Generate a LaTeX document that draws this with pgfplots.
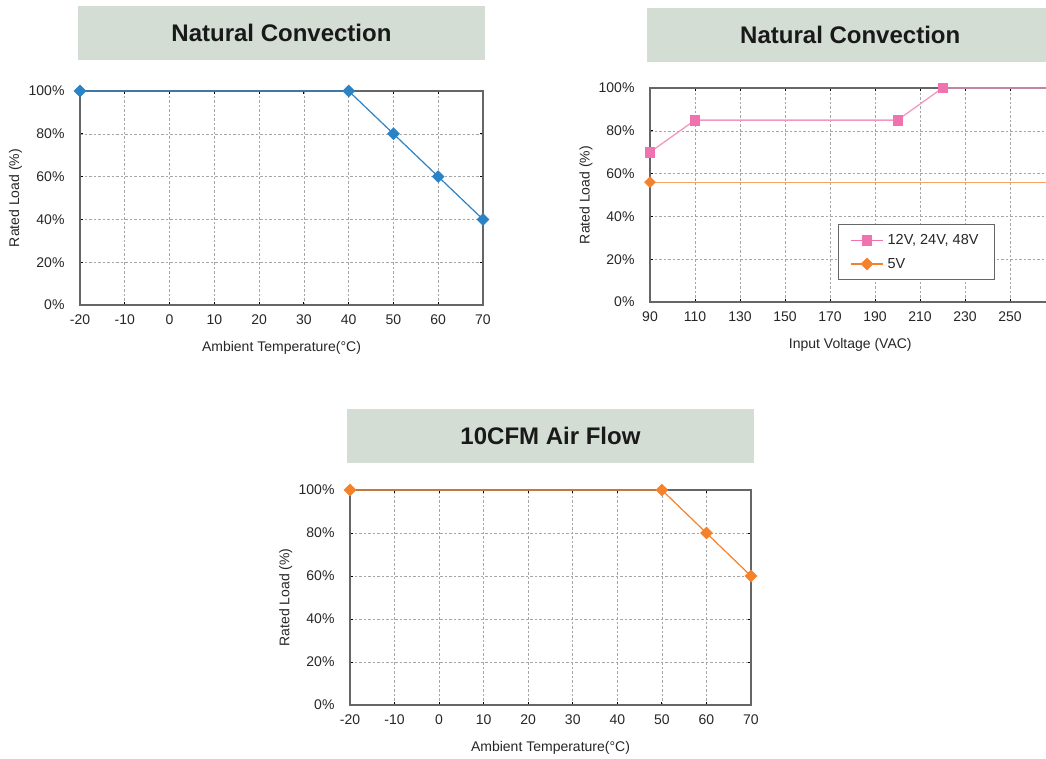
\documentclass[border=0pt]{standalone}
\usepackage{fontspec}
\setmainfont{Liberation Sans}
\usepackage{pgfplots}
\pgfplotsset{compat=1.18}
\definecolor{titlebg}{HTML}{D3DDD4}
\definecolor{cblue}{HTML}{2B83C6}
\definecolor{cpink}{HTML}{F072AE}
\definecolor{cpinkl}{HTML}{F397C2}
\definecolor{corange}{HTML}{F5822A}
\definecolor{corangel}{HTML}{F8A466}
\pgfplotsset{
  myax/.style={
    scale only axis, anchor=south west,
    height=214pt,
    ymin=0, ymax=100, ytick={0,20,...,100},
    yticklabel={\pgfmathprintnumber{\tick}\%},
    /pgf/number format/assume math mode=true,
    grid=major,
    grid style={dash pattern=on 2.5pt off 2pt, color=black!35, line width=0.6pt},
    axis line style={draw=black!60, line width=1.3pt},
    tick style={black, line width=0.8pt},
    major tick length=3pt,
    tick align=inside,
    tick label style={font=\fontsize{14}{16}\selectfont, text=black!85},
    yticklabel style={xshift=-12pt},
    xticklabel style={yshift=-6pt},
    every axis y label/.style={at={(axis description cs:-0.16,0.5)}, rotate=90, anchor=center,
      font=\fontsize{14}{16}\selectfont, text=black!85},
    every axis x label/.style={at={(axis description cs:0.5,0)}, anchor=center, yshift=-43pt,
      font=\fontsize{14}{16}\selectfont, text=black!85},
    title style={at={(axis description cs:0.5,1)}, anchor=south, fill=titlebg,
      minimum width=407pt, minimum height=54pt, inner sep=0pt,
      font=\bfseries\fontsize{24}{28}\selectfont, text=black!90},
    clip=false,
  },
  dmd/.style={mark=square*, mark size=3.9pt, mark options={rotate=45, solid}},
}
\begin{document}
\begin{tikzpicture}
\useasboundingbox (0pt,0pt) rectangle (1046pt,-758pt);
% Chart 1
\begin{axis}[myax, at={(80pt,-305pt)}, width=403pt,
  xmin=-20, xmax=70, xtick={-20,-10,0,10,20,30,40,50,60,70},
  xticklabels={-20,-10,0,10,20,30,40,50,60,70},
  title={Natural Convection}, title style={yshift=25pt},
  xlabel={Ambient Temperature(°C)}, ylabel={Rated Load (\%)}]
\addplot[color=cblue, line width=1.2pt, dmd] coordinates {(-20,100) (40,100) (50,80) (60,60) (70,40)};
\end{axis}
% Chart 2
\begin{axis}[myax, at={(650pt,-302pt)}, width=400.5pt,
  xmin=90, xmax=268, xtick={90,110,...,250},
  title={Natural Convection}, title style={yshift=20pt},
  xlabel={Input Voltage (VAC)}, ylabel={Rated Load (\%)},
  legend style={at={(rel axis cs:0.469,0.364)}, anchor=north west, draw=black!60, line width=1pt,
    font=\fontsize{14.5}{16}\selectfont, text=black!85, inner xsep=12pt, inner ysep=9pt, row sep=10pt,
    nodes={inner xsep=4pt, inner ysep=1pt},
    cells={anchor=west}},
  legend image code/.code={\draw[mark repeat=2,mark phase=2] plot coordinates {(0pt,0pt) (16pt,0pt) (32pt,0pt)};}]
\addplot[color=cpinkl, line width=1.3pt, forget plot] coordinates {(90,70) (110,85) (200,85) (220,100) (268,100)};
\addplot[color=cpink, only marks, mark=square*, mark size=4.6pt, forget plot] coordinates {(90,70) (110,85) (200,85) (220,100)};
\addplot[color=corangel, line width=1.3pt, forget plot] coordinates {(90,56) (268,56)};
\addplot[color=corange, only marks, dmd, forget plot] coordinates {(90,56)};
\addlegendimage{color=cpink, line width=1.3pt, mark=square*, mark size=4.6pt}
\addlegendentry{12V, 24V, 48V}
\addlegendimage{color=corange, line width=1.3pt, dmd}
\addlegendentry{5V}
\end{axis}
% Chart 3
\begin{axis}[myax, at={(350pt,-705pt)}, width=401pt, height=215pt,
  xmin=-20, xmax=70, xtick={-20,-10,0,10,20,30,40,50,60,70},
  xticklabels={-20,-10,0,10,20,30,40,50,60,70},
  title={10CFM Air Flow}, title style={yshift=21pt},
  xlabel={Ambient Temperature(°C)}, ylabel={Rated Load (\%)}]
\addplot[color=corange, line width=1.2pt, dmd] coordinates {(-20,100) (50,100) (60,80) (70,60)};
\end{axis}
\end{tikzpicture}
\end{document}
